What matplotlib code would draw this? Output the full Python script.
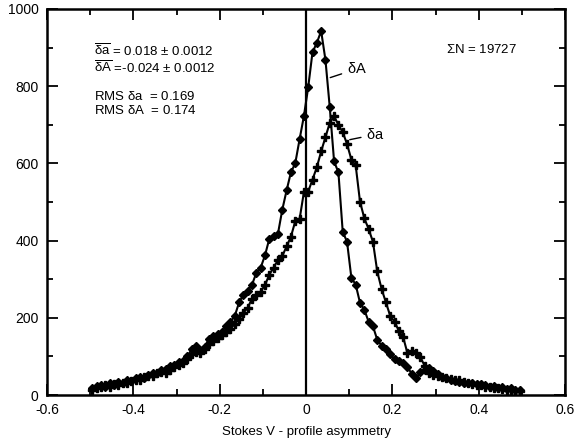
"""Stokes V profile asymmetry histograms (delta A and delta a)."""
import numpy as np
import matplotlib
matplotlib.use("Agg")
import matplotlib.pyplot as plt

plt.rcParams["font.family"] = ["Liberation Sans", "DejaVu Sans"]
plt.rcParams["mathtext.fontset"] = "custom"
plt.rcParams["mathtext.rm"] = "Liberation Sans"
plt.rcParams["mathtext.it"] = "Liberation Sans"

# bin centres, 0.01 wide
bin_centres = np.round(np.arange(-0.495, 0.5, 0.01), 3)

counts_dA = [
    18, 23, 25, 21, 30, 27, 33, 31, 38, 36,
    43, 47, 45, 53, 57, 56, 64, 67, 74, 79,
    85, 89, 100, 118, 126, 117, 125, 145, 153, 158,
    164, 178, 190, 205, 240, 260, 270, 286, 317, 330,
    362, 405, 412, 418, 480, 530, 577, 600, 662, 722,
    797, 888, 912, 943, 868, 745, 605, 577, 423, 397,
    304, 286, 239, 221, 190, 178, 143, 128, 118, 106,
    93, 88, 83, 72, 55, 44, 60, 66, 70, 63,
    55, 47, 43, 40, 37, 34, 32, 30, 31, 28,
    29, 25, 22, 23, 19, 20, 16, 17, 13, 12,
]

counts_da = [
    14, 18, 22, 26, 20, 28, 25, 32, 30, 36,
    40, 38, 46, 50, 48, 56, 60, 58, 66, 72,
    78, 84, 92, 105, 112, 108, 118, 132, 140, 148,
    155, 162, 170, 185, 196, 213, 226, 250, 258, 268,
    285, 312, 330, 350, 360, 385, 410, 450, 455, 525,
    527, 558, 590, 631, 668, 705, 722, 700, 681, 650,
    610, 595, 501, 458, 430, 397, 320, 275, 240, 205,
    190, 166, 150, 108, 115, 110, 98, 75, 58, 52,
    50, 47, 45, 42, 40, 38, 35, 31, 29, 27,
    25, 22, 20, 18, 17, 15, 14, 12, 11, 10,
]

stats_lines = [r"$\overline{\delta a}$ = 0.018 $\pm$ 0.0012",
               r"$\overline{\delta A}$ =-0.024 $\pm$ 0.0012"]
rms_lines = [r"RMS $\delta$a  = 0.169", r"RMS $\delta$A  = 0.174"]

fig = plt.figure(figsize=(5.76, 4.47), dpi=100)
ax = fig.add_axes([0.0816, 0.1163, 0.8994, 0.8636])

ax.plot(bin_centres, counts_dA, color="black", lw=1.5, marker="D", ms=4.2)
ax.plot(bin_centres, counts_da, color="black", lw=1.5, marker="P", ms=6)
ax.axvline(0, color="black", lw=1.6)

ax.set_xlim(-0.6, 0.6)
ax.set_ylim(0, 1000)
ax.set_xticks(np.arange(-0.6, 0.61, 0.2))
ax.set_xticklabels(["-0.6", "-0.4", "-0.2", "0", "0.2", "0.4", "0.6"])
ax.set_xticks(np.arange(-0.5, 0.51, 0.2), minor=True)
ax.set_yticks(np.arange(0, 1001, 200))
ax.set_yticks(np.arange(100, 1000, 200), minor=True)
ax.tick_params(which="both", direction="in", top=True, right=True,
               labelsize=10, width=1.3, pad=6)
ax.tick_params(which="major", length=8)
ax.tick_params(which="minor", length=4)
for sp in ax.spines.values():
    sp.set_linewidth(1.8)

ax.set_xlabel("Stokes V - profile asymmetry", fontsize=9.5, labelpad=6)

ax.text(-0.49, 870, "\n".join(stats_lines), fontsize=9.5, va="center",
        linespacing=1.1)
ax.text(-0.49, 755, "\n".join(rms_lines), fontsize=9.5, va="center",
        linespacing=1.1)
ax.text(0.325, 895, r"$\Sigma$N = 19727", fontsize=9.5, va="center")

ax.annotate(r"$\delta$A", xy=(0.05, 820), xytext=(0.095, 845),
            fontsize=10.5, va="center",
            arrowprops=dict(arrowstyle="-", color="black", lw=1))
ax.annotate(r"$\delta$a", xy=(0.095, 660), xytext=(0.14, 675),
            fontsize=10.5, va="center",
            arrowprops=dict(arrowstyle="-", color="black", lw=1))

fig.savefig("out.png", dpi=100)
